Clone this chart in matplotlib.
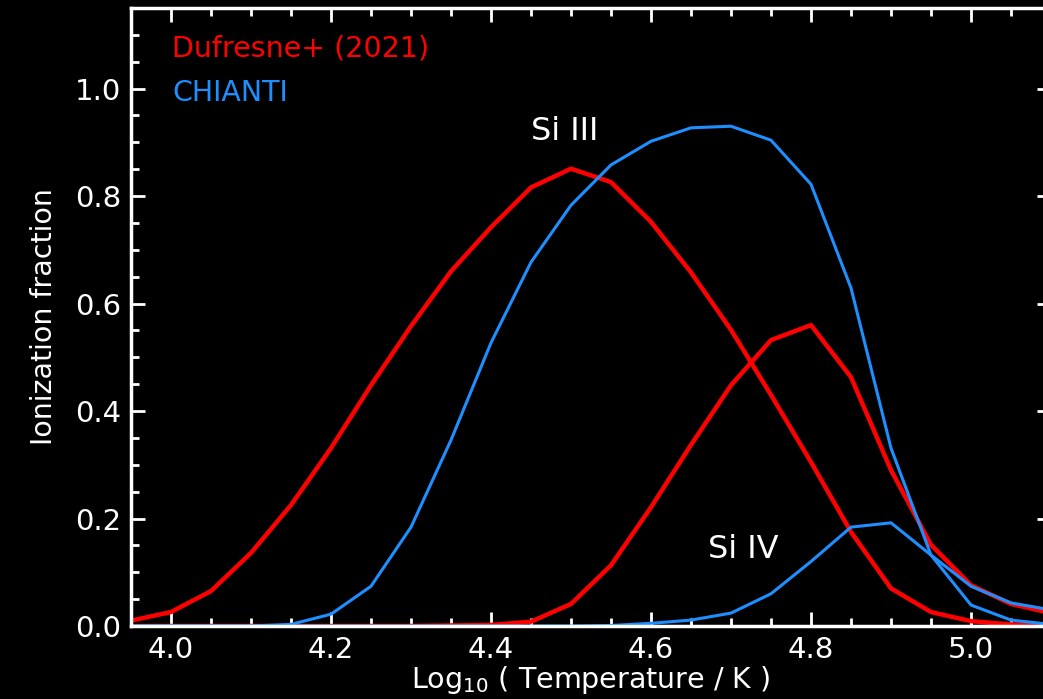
import numpy as np
import matplotlib
matplotlib.use('Agg')
import matplotlib.pyplot as plt
from matplotlib.ticker import MultipleLocator

# Log10 temperature grid
log_t = [3.95, 4.00, 4.05, 4.10, 4.15, 4.20, 4.25, 4.30, 4.35, 4.40, 4.45, 4.50,
         4.55, 4.60, 4.65, 4.70, 4.75, 4.80, 4.85, 4.90, 4.95, 5.00, 5.05, 5.10]

# Dufresne+ (2021)
dufresne_si3 = [0.010, 0.026, 0.065, 0.136, 0.225, 0.331, 0.448, 0.558, 0.660, 0.742,
                0.816, 0.851, 0.826, 0.752, 0.658, 0.551, 0.430, 0.305, 0.175, 0.070,
                0.026, 0.009, 0.003, 0.001]
dufresne_si4 = [0.000, 0.000, 0.000, 0.000, 0.000, 0.000, 0.000, 0.000, 0.001, 0.002,
                0.008, 0.041, 0.113, 0.221, 0.337, 0.448, 0.532, 0.560, 0.463, 0.290,
                0.151, 0.076, 0.041, 0.024]

# CHIANTI
chianti_si3 = [0.000, 0.000, 0.000, 0.000, 0.003, 0.022, 0.074, 0.184, 0.346, 0.527,
               0.677, 0.783, 0.858, 0.902, 0.927, 0.930, 0.904, 0.822, 0.629, 0.331,
               0.132, 0.039, 0.011, 0.003]
chianti_si4 = [0.000, 0.000, 0.000, 0.000, 0.000, 0.000, 0.000, 0.000, 0.000, 0.000,
               0.000, 0.000, 0.001, 0.005, 0.011, 0.024, 0.060, 0.120, 0.184, 0.192,
               0.132, 0.074, 0.043, 0.030]

red = '#ff0000'
blue = '#1e8fff'

fig = plt.figure(figsize=(10.43, 6.99), dpi=100, facecolor='black')
ax = fig.add_axes([131 / 1043, 73 / 699, 920 / 1043, 618 / 699], facecolor='black')

ax.plot(log_t, dufresne_si3, color=red, lw=3.2)
ax.plot(log_t, dufresne_si4, color=red, lw=3.2)
ax.plot(log_t, chianti_si3, color=blue, lw=2.2)
ax.plot(log_t, chianti_si4, color=blue, lw=2.2)

ax.set_xlim(3.95, 5.10)
ax.set_ylim(0, 1.15)

ax.xaxis.set_major_locator(MultipleLocator(0.2))
ax.xaxis.set_minor_locator(MultipleLocator(0.05))
ax.yaxis.set_major_locator(MultipleLocator(0.2))
ax.yaxis.set_minor_locator(MultipleLocator(0.05))

ax.tick_params(which='both', direction='in', top=True, right=True, colors='white',
               labelsize=21, width=2)
ax.tick_params(which='major', length=10, pad=7)
ax.tick_params(which='minor', length=6)
for sp in ax.spines.values():
    sp.set_color('white')
    sp.set_linewidth(2.5)

ax.set_xlabel('Log$_{10}$ ( Temperature / K )', color='white', fontsize=20.5, labelpad=0)
ax.set_ylabel('Ionization fraction', color='white', fontsize=20.5, labelpad=12)

ax.text(0.045, 0.935, 'Dufresne+ (2021)', color=red, fontsize=20.5,
        transform=ax.transAxes, va='center', ha='left')
ax.text(0.045, 0.862, 'CHIANTI', color=blue, fontsize=20.5,
        transform=ax.transAxes, va='center', ha='left')

ax.text(4.4925, 0.92, 'Si III', color='white', fontsize=23, ha='center', va='center')
ax.text(4.715, 0.143, 'Si IV', color='white', fontsize=23, ha='center', va='center')

fig.savefig('out.png', dpi=100, facecolor='black')
